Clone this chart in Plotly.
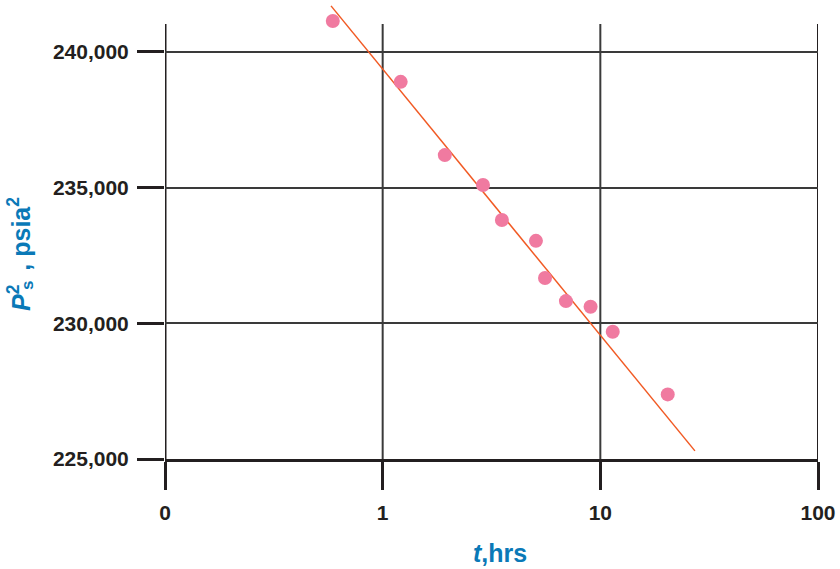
import plotly.graph_objects as go

# Measured build-up data: shut-in time (hrs) vs. squared pressure (psia^2)
t_hrs = [0.59, 1.21, 1.93, 2.89, 3.53, 5.06, 5.57, 6.95, 9.02, 11.4, 20.4]
p_sq = [241140, 238900, 236200, 235100, 233810, 233040, 231670, 230820, 230610, 229690, 227380]

# Straight-line fit end points
fit_t = [0.579, 27.2]
fit_p = [241700, 225300]

x_ticks = [0.1, 1, 10, 100]
x_tick_text = ["0", "1", "10", "100"]
y_ticks = [225000, 230000, 235000, 240000]
y_tick_text = ["225,000", "230,000", "235,000", "240,000"]

Y_MIN, Y_MAX = 225000, 241916
FRAME_TOP = 241032

INK = "#231f20"
BLUE = "#0a79b7"
FONT = "Liberation Sans, Arial, sans-serif"

fig = go.Figure()

fig.add_trace(go.Scatter(
    x=fit_t, y=fit_p, mode="lines",
    line=dict(color="#f15a24", width=1.5),
    hoverinfo="skip", showlegend=False,
))
fig.add_trace(go.Scatter(
    x=t_hrs, y=p_sq, mode="markers",
    marker=dict(color="#f07aa0", size=14),
    cliponaxis=False, showlegend=False,
))

# vertical frame / decade lines
for i, xv in enumerate(x_ticks):
    fig.add_shape(type="line", xref="x", yref="y", x0=xv, x1=xv,
                  y0=Y_MIN, y1=FRAME_TOP, layer="below",
                  line=dict(color=INK if i in (0, 3) else "#3a3a3a",
                            width=3 if i == 0 else 2))

fig.update_layout(
    width=840, height=569,
    margin=dict(l=165, r=22, t=0, b=110),
    paper_bgcolor="white", plot_bgcolor="white",
    font=dict(family=FONT, color=INK),
    xaxis=dict(
        type="log", range=[-1, 2],
        tickvals=x_ticks, ticktext=x_tick_text,
        ticks="outside", ticklen=28, tickwidth=3, tickcolor=INK,
        showgrid=False, zeroline=False,
        showline=True, linecolor=INK, linewidth=3,
        tickfont=dict(size=21, color=INK, family=FONT, weight="bold"),
        ticklabelstandoff=5,
    ),
    yaxis=dict(
        range=[Y_MIN, Y_MAX],
        tickvals=y_ticks, ticktext=y_tick_text,
        ticks="outside", ticklen=27, tickwidth=3, tickcolor=INK,
        showgrid=True, gridcolor="#3a3a3a", gridwidth=2,
        zeroline=False, showline=False,
        tickfont=dict(size=21, color=INK, family=FONT, weight="bold"),
        ticklabelstandoff=4,
    ),
)

def px_x(px):
    return (px - 165) / 653

def px_y(py):
    return (459 - py) / 459

fig.add_annotation(
    xref="paper", yref="paper", x=px_x(500), y=px_y(553),
    text="<i>t</i>,hrs", showarrow=False,
    font=dict(size=25, color=BLUE, family=FONT, weight="bold"),
    xanchor="center", yanchor="middle",
)
# y-axis title: P with stacked superscript 2 / subscript s
fig.add_annotation(
    xref="paper", yref="paper", x=px_x(19), y=px_y(313),
    text="<i>P</i><sup>2</sup>  , psia<sup>2</sup>", showarrow=False,
    textangle=-90,
    font=dict(size=25, color=BLUE, family=FONT, weight="bold"),
    xanchor="center", yanchor="bottom",
)
fig.add_annotation(
    xref="paper", yref="paper", x=px_x(28), y=px_y(286),
    text="s", showarrow=False,
    textangle=-90,
    font=dict(size=17, color=BLUE, family=FONT, weight="bold"),
    xanchor="center", yanchor="middle",
)

fig.write_html("out.html")
